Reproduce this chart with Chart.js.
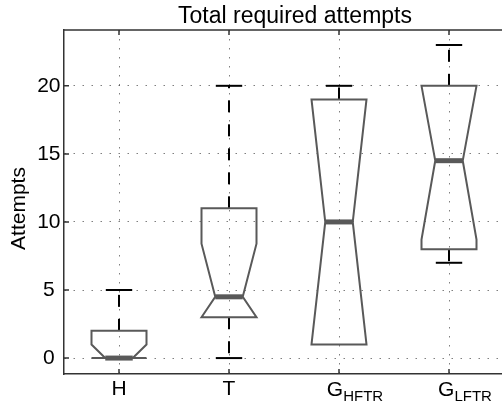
<!DOCTYPE html>
<html>
<head>
<meta charset="utf-8">
<script src="https://cdn.jsdelivr.net/npm/chart.js@4.4.1/dist/chart.umd.min.js"></script>
<style>
  html, body { margin: 0; padding: 0; overflow: hidden; background: #fff; }
</style>
</head>
<body>
<canvas id="boxChart" width="510" height="406"></canvas>
<script>
// box plot values
const categories = ['H', 'T', 'G', 'G'];
const subscripts = ['', '', 'HFTR', 'LFTR'];
const q1 = [0, 3, 1, 8];
const q3 = [2, 11, 19, 20];
const medians = [0, 4.5, 10, 14.5];
const notchLow = [0, 3, 1, 8.7];
const notchHigh = [1, 8.4, 19, 20];
const whiskerLow = [0, 0, 1, 7];
const whiskerHigh = [5, 20, 20, 23];
const yTicks = [0, 5, 10, 15, 20];

const FONT = '"Liberation Sans", Arial, Helvetica, sans-serif';
const boxColor = '#595959';
const axisColor = '#333333';
const gridColor = 'rgba(0,0,0,0.5)';

const boxPlugin = {
    id: 'boxPlugin',
    afterDatasetsDraw(chart) {
        const ctx = chart.ctx;
        const xs = chart.scales.x;
        const ys = chart.scales.y;
        const area = chart.chartArea;
        const px = v => xs.getPixelForValue(v);
        const py = v => ys.getPixelForValue(v);

        ctx.save();
        // top border + inward ticks
        ctx.strokeStyle = axisColor;
        ctx.lineWidth = 1.5;
        ctx.beginPath();
        ctx.moveTo(area.left, area.top);
        ctx.lineTo(area.right, area.top);
        categories.forEach((c, i) => {
            const x = px(i + 1);
            ctx.moveTo(x, area.bottom);
            ctx.lineTo(x, area.bottom - 5);
            ctx.moveTo(x, area.top);
            ctx.lineTo(x, area.top + 5);
        });
        yTicks.forEach(v => {
            ctx.moveTo(area.left, py(v));
            ctx.lineTo(area.left + 5, py(v));
        });
        ctx.stroke();

        categories.forEach((c, i) => {
            const pos = i + 1;
            const x = px(pos);
            const L = px(pos - 0.25), R = px(pos + 0.25);
            const nL = px(pos - 0.125), nR = px(pos + 0.125);
            const cL = px(pos - 0.12), cR = px(pos + 0.12);
            const lo = Math.max(notchLow[i], q1[i]);
            const hi = Math.min(notchHigh[i], q3[i]);

            // whiskers (dashed) and caps, only where they leave the box
            ctx.strokeStyle = '#000';
            ctx.lineWidth = 2;
            if (whiskerHigh[i] > q3[i]) {
                ctx.setLineDash([12, 12]);
                ctx.beginPath();
                ctx.moveTo(x, py(q3[i]));
                ctx.lineTo(x, py(whiskerHigh[i]));
                ctx.stroke();
                ctx.setLineDash([]);
                ctx.beginPath();
                ctx.moveTo(cL, py(whiskerHigh[i]));
                ctx.lineTo(cR, py(whiskerHigh[i]));
                ctx.stroke();
            }
            if (whiskerLow[i] < q1[i]) {
                ctx.setLineDash([12, 12]);
                ctx.beginPath();
                ctx.moveTo(x, py(q1[i]));
                ctx.lineTo(x, py(whiskerLow[i]));
                ctx.stroke();
                ctx.setLineDash([]);
                ctx.beginPath();
                ctx.moveTo(cL, py(whiskerLow[i]));
                ctx.lineTo(cR, py(whiskerLow[i]));
                ctx.stroke();
            }

            // notched box
            ctx.strokeStyle = boxColor;
            ctx.lineWidth = 2;
            ctx.lineJoin = 'miter';
            ctx.beginPath();
            ctx.moveTo(L, py(q1[i]));
            ctx.lineTo(L, py(lo));
            ctx.lineTo(nL, py(medians[i]));
            ctx.lineTo(L, py(hi));
            ctx.lineTo(L, py(q3[i]));
            ctx.lineTo(R, py(q3[i]));
            ctx.lineTo(R, py(hi));
            ctx.lineTo(nR, py(medians[i]));
            ctx.lineTo(R, py(lo));
            ctx.lineTo(R, py(q1[i]));
            ctx.closePath();
            ctx.stroke();

            // median
            ctx.lineWidth = 5;
            ctx.lineCap = 'butt';
            ctx.beginPath();
            ctx.moveTo(nL, py(medians[i]));
            ctx.lineTo(nR, py(medians[i]));
            ctx.stroke();

            // category label with subscript
            ctx.fillStyle = '#000';
            ctx.textBaseline = 'alphabetic';
            ctx.font = '21px ' + FONT;
            if (!subscripts[i]) {
                ctx.textAlign = 'center';
                ctx.fillText(c, x, 395);
            } else {
                const gW = ctx.measureText(c).width;
                ctx.font = '15px ' + FONT;
                const sW = ctx.measureText(subscripts[i]).width;
                const start = x + 16 - (gW + sW) / 2;
                ctx.textAlign = 'left';
                ctx.font = '21px ' + FONT;
                ctx.fillText(c, start, 396);
                ctx.font = '15px ' + FONT;
                ctx.fillText(subscripts[i], start + gW, 401);
            }
        });

        // title and y label
        ctx.fillStyle = '#000';
        ctx.textAlign = 'center';
        ctx.textBaseline = 'alphabetic';
        ctx.font = '23px ' + FONT;
        ctx.fillText('Total required attempts', 295, 22.5);

        ctx.translate(25, 208.5);
        ctx.rotate(-Math.PI / 2);
        ctx.font = '21px ' + FONT;
        ctx.fillText('Attempts', 0, 0);
        ctx.restore();
    }
};

const ctx = document.getElementById('boxChart').getContext('2d');
new Chart(ctx, {
    type: 'scatter',
    data: {
        datasets: [{
            data: medians.map((m, i) => ({ x: i + 1, y: m })),
            pointRadius: 0
        }]
    },
    options: {
        responsive: false,
        animation: false,
        events: [],
        layout: { padding: { top: 30, right: 6, left: 0, bottom: 0 } },
        plugins: {
            legend: { display: false },
            tooltip: { enabled: false },
            title: { display: false }
        },
        scales: {
            x: {
                type: 'linear',
                min: 0.5,
                max: 4.5,
                afterBuildTicks: s => { s.ticks = categories.map((c, i) => ({ value: i + 1 })); },
                afterFit: s => { s.height = 32; },
                ticks: { display: false },
                grid: { drawTicks: false, color: gridColor, lineWidth: 1 },
                border: { color: axisColor, width: 1.5, dash: [1.5, 7.5] }
            },
            y: {
                min: -1.17,
                max: 24.1,
                afterBuildTicks: s => { s.ticks = yTicks.map(v => ({ value: v })); },
                afterFit: s => { s.width = 64; },
                ticks: {
                    color: '#000',
                    font: { family: FONT, size: 21 },
                    crossAlign: 'center',
                    padding: 3.5
                },
                grid: { drawTicks: false, color: gridColor, lineWidth: 1 },
                border: { color: axisColor, width: 1.5, dash: [1.5, 7.5] }
            }
        }
    },
    plugins: [boxPlugin]
});
</script>
</body>
</html>
